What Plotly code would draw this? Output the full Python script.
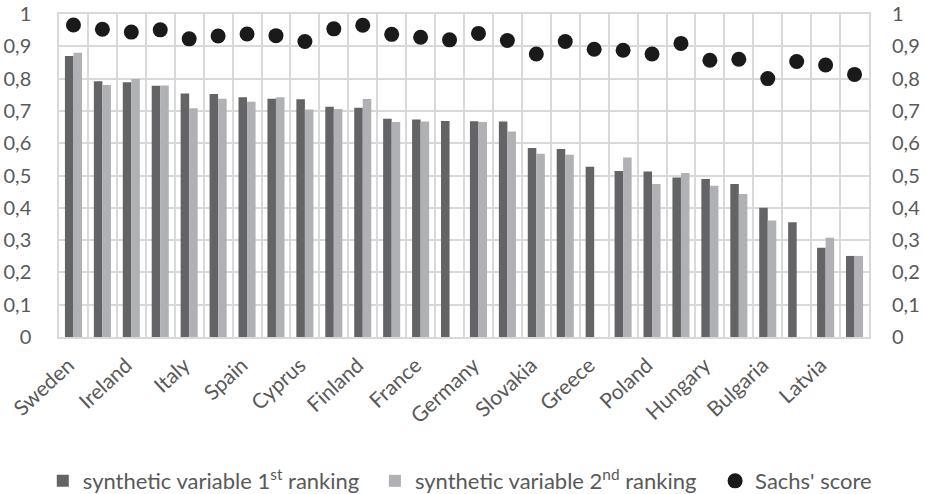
import plotly.graph_objects as go

tick_labels = ["Sweden", "Ireland", "Italy", "Spain", "Cyprus", "Finland", "France",
               "Germany", "Slovakia", "Greece", "Poland", "Hungary", "Bulgaria", "Latvia"]

ranking_1 = [0.870, 0.792, 0.789, 0.778, 0.754, 0.752, 0.742, 0.738, 0.736, 0.713,
             0.710, 0.676, 0.673, 0.669, 0.668, 0.667, 0.585, 0.582, 0.527, 0.514,
             0.512, 0.494, 0.489, 0.474, 0.400, 0.355, 0.276, 0.251]
ranking_2 = [0.880, 0.780, 0.799, 0.779, 0.708, 0.738, 0.728, 0.742, 0.704, 0.706,
             0.737, 0.666, 0.667, None, 0.666, 0.636, 0.567, 0.564, None, 0.556,
             0.474, 0.508, 0.468, 0.443, 0.361, None, 0.307, 0.251]
sachs = [0.966, 0.953, 0.944, 0.951, 0.923, 0.932, 0.938, 0.933, 0.915, 0.954,
         0.965, 0.937, 0.928, 0.920, 0.940, 0.918, 0.876, 0.915, 0.891, 0.888,
         0.876, 0.909, 0.857, 0.860, 0.800, 0.853, 0.842, 0.813]

n = len(ranking_1)
x = list(range(n))
tick_pos = x[::2]
boundaries = [i - 0.5 for i in range(n + 1)]

FONT = "Lato"
TXT = "#595959"
GRID = "#d9d9d9"
LEG_FONT = dict(family=FONT, size=22, color=TXT)

fig = go.Figure()
fig.add_trace(go.Bar(x=x, y=ranking_1, name="synthetic variable 1<sup>st</sup> ranking",
                     marker_color="#646466", marker_line_width=0, legend="legend"))
fig.add_trace(go.Bar(x=x, y=ranking_2, name="synthetic variable 2<sup>nd</sup> ranking",
                     marker_color="#b0b1b5", marker_line_width=0, legend="legend2"))
fig.add_trace(go.Scatter(x=x, y=sachs, name="Sachs' score", mode="markers",
                         marker=dict(color="#1a1a1a", size=15),
                         xaxis="x2", yaxis="y2", legend="legend3"))


def leg(xpos):
    return dict(orientation="h", x=xpos, xanchor="left", y=-0.446, yanchor="middle",
                font=LEG_FONT, itemwidth=30, bgcolor="rgba(0,0,0,0)")


fig.update_layout(
    width=925, height=494,
    margin=dict(l=59, r=56, t=14, b=157, autoexpand=False),
    paper_bgcolor="white", plot_bgcolor="white",
    separators=", ",
    barmode="group", bargap=0.41, bargroupgap=0,
    font=dict(family=FONT, size=20, color=TXT),
    showlegend=True,
    legend=leg(-0.02), legend2=leg(0.39), legend3=leg(0.81),
    xaxis=dict(range=[-0.5, n - 0.5], tickmode="array", tickvals=boundaries,
               showticklabels=False, showgrid=True, gridcolor=GRID, gridwidth=1.5,
               ticks="", zeroline=False, showline=True, linecolor=GRID, linewidth=1.5,
               mirror=True, automargin=False),
    xaxis2=dict(overlaying="x", range=[-0.5, n - 0.5], tickmode="array",
                tickvals=tick_pos, ticktext=tick_labels, tickangle=-43, side="bottom",
                showgrid=False, zeroline=False, ticks="", automargin=False,
                ticklabelstandoff=11, ticklabelshift=-5,
                tickfont=dict(family=FONT, size=21, color=TXT)),
    yaxis=dict(range=[0, 1], dtick=0.1, showgrid=True, gridcolor=GRID, gridwidth=1.5,
               zeroline=False, ticks="", showline=True, linecolor=GRID, linewidth=1.5,
               mirror=True, tickfont=dict(family=FONT, size=20, color=TXT),
               ticklabelstandoff=22, automargin=False),
    yaxis2=dict(overlaying="y", side="right", range=[0, 1], dtick=0.1, showgrid=False,
                zeroline=False, ticks="", tickfont=dict(family=FONT, size=20, color=TXT),
                ticklabelstandoff=22, automargin=False),
)

fig.write_html("out.html", config={"displayModeBar": False},
               post_script="document.body.style.margin='0';")
